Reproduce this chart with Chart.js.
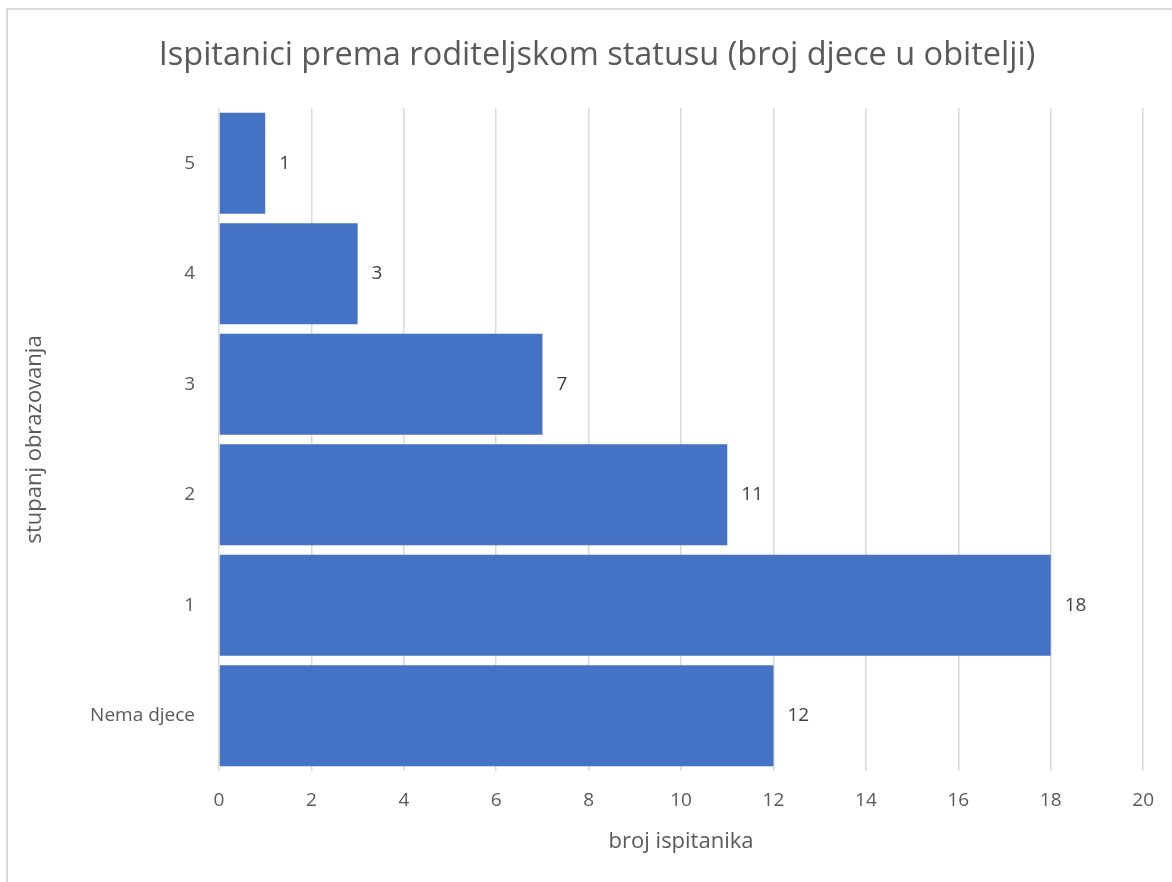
<!DOCTYPE html>
<html>
<head>
<meta charset="utf-8">
<script src="https://cdn.jsdelivr.net/npm/chart.js@4/dist/chart.umd.min.js"></script>
<style>
  html, body { margin: 0; padding: 0; background: #fff; overflow: hidden; }
  #frame { position: absolute; left: 6px; top: 8px; width: 1300px; height: 1000px; border: 2px solid #d9d9d9; }
  #wrap { position: absolute; left: 0; top: 0; width: 1172px; height: 882px; }
</style>
</head>
<body>
<div id="frame"></div>
<div id="wrap"><canvas id="myChart" width="1172" height="882"></canvas></div>
<script>
const categories = ["5", "4", "3", "2", "1", "Nema djece"];
const counts = [1, 3, 7, 11, 18, 12];
const chartTitle = "Ispitanici prema roditeljskom statusu (broj djece u obitelji)";
const barColor = "#4472C4";
const fontFamily = "'Open Sans', 'Noto Sans', sans-serif";

// title drawn by hand so it can sit where Excel puts it
const titleText = {
    id: "titleText",
    afterDraw(chart) {
        const ctx = chart.ctx;
        ctx.save();
        ctx.font = "32.5px " + fontFamily;
        ctx.fillStyle = "#595959";
        ctx.textAlign = "center";
        ctx.textBaseline = "middle";
        ctx.fillText(chartTitle, 597, 56);
        ctx.restore();
    }
};

// value labels at the end of each bar
const valueLabels = {
    id: "valueLabels",
    afterDatasetsDraw(chart) {
        const ctx = chart.ctx;
        const meta = chart.getDatasetMeta(0);
        ctx.save();
        ctx.font = "19px " + fontFamily;
        ctx.fillStyle = "#404040";
        ctx.textAlign = "left";
        ctx.textBaseline = "middle";
        meta.data.forEach(function (bar, i) {
            ctx.fillText(String(counts[i]), bar.x + 14, bar.y);
        });
        ctx.restore();
    }
};

new Chart("myChart", {
    type: "bar",
    data: {
        labels: categories,
        datasets: [{
            data: counts,
            backgroundColor: barColor,
            barPercentage: 0.915,
            categoryPercentage: 1
        }]
    },
    options: {
        indexAxis: "y",
        responsive: false,
        animation: false,
        layout: { padding: { left: 0, right: 25, top: 108, bottom: 0 } },
        plugins: {
            legend: { display: false },
            tooltip: { enabled: false },
            title: { display: false }
        },
        scales: {
            x: {
                min: 0,
                max: 20,
                ticks: {
                    stepSize: 2,
                    color: "#595959",
                    font: { family: fontFamily, size: 19 },
                    padding: 18
                },
                grid: { color: "#d9d9d9", lineWidth: 1.5, drawTicks: false },
                border: { display: false },
                title: {
                    display: true,
                    text: "broj ispitanika",
                    color: "#595959",
                    font: { family: fontFamily, size: 22 },
                    padding: { top: 27, bottom: 27 }
                },
                afterFit(scale) { scale.height = 111; }
            },
            y: {
                ticks: {
                    color: "#595959",
                    font: { family: fontFamily, size: 19 },
                    padding: 24
                },
                grid: { display: false, drawTicks: false },
                border: { display: false },
                title: {
                    display: true,
                    text: "stupanj obrazovanja",
                    color: "#595959",
                    font: { family: fontFamily, size: 22 },
                    padding: { top: 22, bottom: 22 }
                },
                afterFit(scale) { scale.width = 219; }
            }
        }
    },
    plugins: [valueLabels, titleText]
});
</script>
</body>
</html>
